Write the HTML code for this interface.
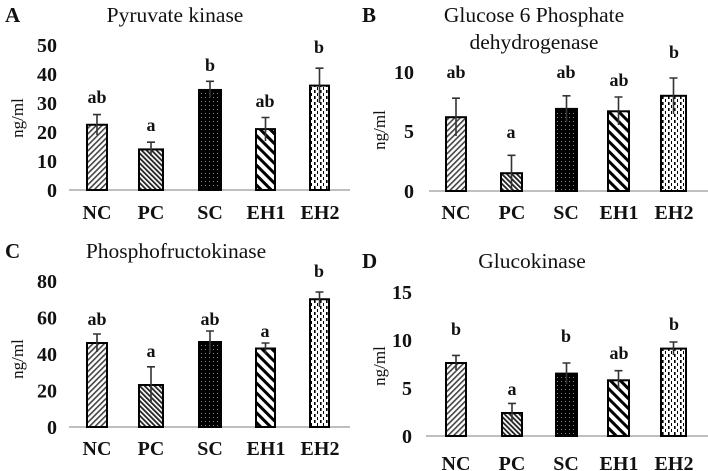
<!DOCTYPE html>
<html><head><meta charset="utf-8"><style>
body{margin:0;background:#fff}
svg{display:block}
text{font-family:"Liberation Serif",serif;fill:#111}
.t{font-size:21.5px}
.p{font-size:21px;font-weight:bold}
.k{font-size:20px;font-weight:bold;text-anchor:end}
.c{font-size:20px;font-weight:bold;text-anchor:middle}
.l{font-size:18px;font-weight:bold;text-anchor:middle}
.y{font-size:17px;text-anchor:middle}
.b{stroke:#000;stroke-width:2}
.e{stroke:#333;stroke-width:1.6;fill:none}
.ax{stroke:#aaa;stroke-width:1.5}
</style></head><body>
<svg width="708" height="471" viewBox="0 0 708 471" xmlns="http://www.w3.org/2000/svg">
<defs>
<pattern id="nc" patternUnits="userSpaceOnUse" width="4" height="4" patternTransform="rotate(45)"><rect width="4" height="4" fill="#fff"/><rect width="1.6" height="4" fill="#444"/></pattern>
<pattern id="pc" patternUnits="userSpaceOnUse" width="3.5" height="3.5" patternTransform="rotate(-45)"><rect width="3.5" height="3.5" fill="#fff"/><rect width="1.8" height="3.5" fill="#222"/></pattern>
<pattern id="sc" patternUnits="userSpaceOnUse" width="4" height="4"><rect width="4" height="4" fill="#000"/><rect x="1" y="1" width="1" height="1" fill="#888"/></pattern>
<pattern id="e1" patternUnits="userSpaceOnUse" width="7" height="7" patternTransform="rotate(-45)"><rect width="7" height="7" fill="#fff"/><rect width="3" height="7" fill="#000"/></pattern>
<pattern id="e2" patternUnits="userSpaceOnUse" width="6" height="6"><rect width="6" height="6" fill="#fff"/><rect x="2" y="0" width="1.6" height="3" fill="#000"/><rect x="5" y="3" width="1" height="3" fill="#000"/></pattern>
</defs>

<!-- Panel A -->
<text x="5" y="22" class="p">A</text>
<text x="175" y="22" class="t" text-anchor="middle">Pyruvate  kinase</text>
<text x="57" y="52" class="k">50</text><text x="57" y="81" class="k">40</text><text x="57" y="110" class="k">30</text><text x="57" y="139" class="k">20</text><text x="57" y="168" class="k">10</text><text x="57" y="197" class="k">0</text>
<text class="y" transform="translate(23,118) rotate(-90)">ng/ml</text>
<line x1="69" y1="190" x2="350" y2="190" class="ax"/>
<rect x="87" y="124.75" width="20" height="65.25" fill="url(#nc)" class="b"/>
<rect x="139" y="149.4" width="24" height="40.6" fill="url(#pc)" class="b"/>
<rect x="199" y="89.95" width="22" height="100.05" fill="url(#sc)" class="b"/>
<rect x="256" y="129.1" width="19" height="60.9" fill="url(#e1)" class="b"/>
<rect x="310" y="85.6" width="19" height="104.4" fill="url(#e2)" class="b"/>
<path class="e" d="M97 135V114.6M93 114.6H101M151 156V142.2M147 142.2H155M210 98V81.3M206 81.3H214M265.5 141V117.5M261.5 117.5H269.5M319.5 103V68.2M315.5 68.2H323.5"/>
<text x="97" y="103" class="l">ab</text><text x="151" y="131" class="l">a</text><text x="210" y="71" class="l">b</text><text x="265" y="107" class="l">ab</text><text x="319" y="53" class="l">b</text>
<text x="97" y="219" class="c">NC</text><text x="151" y="219" class="c">PC</text><text x="210" y="219" class="c">SC</text><text x="266" y="219" class="c">EH1</text><text x="320" y="219" class="c">EH2</text>

<!-- Panel B -->
<text x="362" y="22" class="p">B</text>
<text x="534" y="22" class="t" text-anchor="middle">Glucose 6 Phosphate</text>
<text x="534" y="49" class="t" text-anchor="middle">dehydrogenase</text>
<text x="414" y="79" class="k">10</text><text x="414" y="138" class="k">5</text><text x="414" y="198" class="k">0</text>
<text class="y" transform="translate(385,130) rotate(-90)">ng/ml</text>
<line x1="429" y1="191" x2="708" y2="191" class="ax"/>
<rect x="446" y="117.2" width="20" height="73.8" fill="url(#nc)" class="b"/>
<rect x="501" y="173.2" width="21" height="17.8" fill="url(#pc)" class="b"/>
<rect x="556" y="108.9" width="21" height="82.1" fill="url(#sc)" class="b"/>
<rect x="608" y="111.3" width="21" height="79.7" fill="url(#e1)" class="b"/>
<rect x="661" y="95.8" width="25" height="95.2" fill="url(#e2)" class="b"/>
<path class="e" d="M456 136V98.2M452 98.2H460M511.5 191V155.3M507.5 155.3H515.5M566.5 122V95.8M562.5 95.8H570.5M618.5 125V97M614.5 97H622.5M673.5 114V78M669.5 78H677.5"/>
<text x="456" y="78" class="l">ab</text><text x="511" y="138" class="l">a</text><text x="566" y="78" class="l">ab</text><text x="619" y="86" class="l">ab</text><text x="674" y="58" class="l">b</text>
<text x="456" y="219" class="c">NC</text><text x="512" y="219" class="c">PC</text><text x="566" y="219" class="c">SC</text><text x="619" y="219" class="c">EH1</text><text x="674" y="219" class="c">EH2</text>

<!-- Panel C -->
<text x="5" y="258" class="p">C</text>
<text x="176" y="258" class="t" text-anchor="middle">Phosphofructokinase</text>
<text x="57" y="288" class="k">80</text><text x="57" y="324.5" class="k">60</text><text x="57" y="361" class="k">40</text><text x="57" y="397.5" class="k">20</text><text x="57" y="434" class="k">0</text>
<text class="y" transform="translate(23,359) rotate(-90)">ng/ml</text>
<line x1="69" y1="427" x2="350" y2="427" class="ax"/>
<rect x="87" y="343" width="20" height="84" fill="url(#nc)" class="b"/>
<rect x="139" y="385" width="24" height="42" fill="url(#pc)" class="b"/>
<rect x="199" y="342" width="22" height="85" fill="url(#sc)" class="b"/>
<rect x="256" y="348.5" width="19" height="78.5" fill="url(#e1)" class="b"/>
<rect x="310" y="299.25" width="19" height="127.75" fill="url(#e2)" class="b"/>
<path class="e" d="M97 352V334M93 334H101M151 403V366.8M147 366.8H155M210 353V331M206 331H214M265.5 354V343M261.5 343H269.5M319.5 307V292M315.5 292H323.5"/>
<text x="97" y="325" class="l">ab</text><text x="151" y="357" class="l">a</text><text x="210" y="325" class="l">ab</text><text x="265" y="337" class="l">a</text><text x="319" y="277" class="l">b</text>
<text x="97" y="455" class="c">NC</text><text x="151" y="455" class="c">PC</text><text x="210" y="455" class="c">SC</text><text x="266" y="455" class="c">EH1</text><text x="320" y="455" class="c">EH2</text>

<!-- Panel D -->
<text x="362" y="268" class="p">D</text>
<text x="532" y="268" class="t" text-anchor="middle">Glucokinase</text>
<text x="412" y="299" class="k">15</text><text x="412" y="347" class="k">10</text><text x="412" y="395" class="k">5</text><text x="412" y="443" class="k">0</text>
<text class="y" transform="translate(385,366) rotate(-90)">ng/ml</text>
<line x1="426" y1="436" x2="708" y2="436" class="ax"/>
<rect x="446" y="363" width="20" height="73" fill="url(#nc)" class="b"/>
<rect x="502" y="413" width="20" height="23" fill="url(#pc)" class="b"/>
<rect x="556" y="373.6" width="21" height="62.4" fill="url(#sc)" class="b"/>
<rect x="608" y="380.3" width="21" height="55.7" fill="url(#e1)" class="b"/>
<rect x="661" y="348.6" width="25" height="87.4" fill="url(#e2)" class="b"/>
<path class="e" d="M456 370V355.4M452 355.4H460M512 422V403.4M508 403.4H516M566.5 384V363M562.5 363H570.5M618.5 390V370.7M614.5 370.7H622.5M673.5 355V342M669.5 342H677.5"/>
<text x="456" y="335" class="l">b</text><text x="512" y="395" class="l">a</text><text x="566" y="342" class="l">b</text><text x="619" y="359" class="l">ab</text><text x="674" y="330" class="l">b</text>
<text x="456" y="470" class="c">NC</text><text x="512" y="470" class="c">PC</text><text x="566" y="470" class="c">SC</text><text x="619" y="470" class="c">EH1</text><text x="674" y="470" class="c">EH2</text>
</svg>
</body></html>
